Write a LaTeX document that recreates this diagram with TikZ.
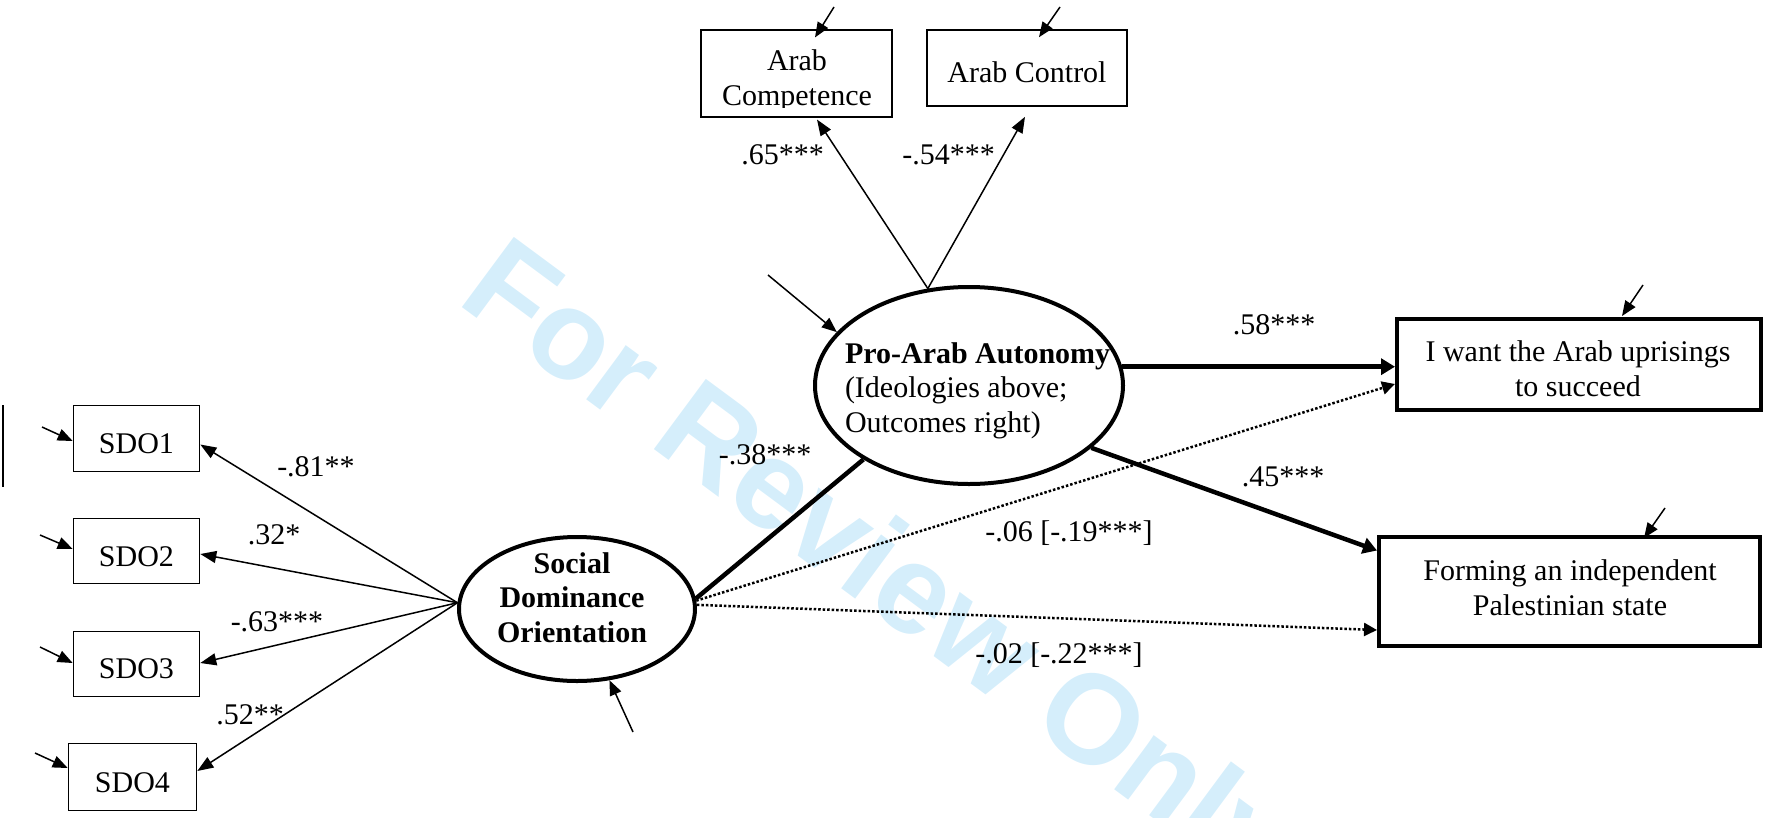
\documentclass[tikz,border=0pt]{standalone}
\usepackage{fontspec}
\setmainfont{Liberation Serif}
\newfontfamily\wmfont{Liberation Sans}
\usetikzlibrary{shapes.geometric,arrows.meta,calc}
\definecolor{wmblue}{RGB}{213,238,251}
\begin{document}
\begin{tikzpicture}[x=1pt,y=-1pt,
  lbl/.style={font=\fontsize{30}{34.5}\selectfont, inner sep=0pt, outer sep=0pt},
  boldlbl/.style={font=\fontsize{30}{34.5}\selectfont\bfseries, inner sep=0pt, outer sep=0pt},
  obs/.style={draw, rectangle, line width=1.6pt, inner sep=0pt},
  outc/.style={draw, rectangle, line width=4pt, inner sep=0pt},
  latent/.style={draw, ellipse, line width=4pt, inner sep=0pt},
  thinarrow/.style={line width=1.5pt, -{Triangle[length=16pt,width=12pt]}},
  errarrow/.style={line width=1.5pt, -{Triangle[length=15pt,width=12pt]}},
  thickarrow/.style={line width=4.5pt, -{Triangle[length=14pt,width=16pt]}},
  thickline/.style={line width=4.5pt},
  dotarrow/.style={line width=2.5pt, dash pattern=on 2.5pt off 2pt, -{Triangle[length=13pt,width=13pt]}},
  wm/.style={font=\wmfont\bfseries\fontsize{127}{127}\selectfont, text=wmblue, inner sep=0pt, outer sep=0pt}
]
\useasboundingbox (0,0) rectangle (1765,817);

% watermark
\node[wm, anchor=base west, rotate=-36.5] (wmark) at (455,302) {For Review Only};

% latent variables (anchor=base of a multi-line node = baseline of its last line)
\node[latent, minimum width=308pt, minimum height=197pt] (paa) at (969,385.5) {};
\node[lbl, align=left, anchor=base west] (paatext) at (845,432) {\textbf{Pro-Arab Autonomy}\\(Ideologies above;\\Outcomes right)};
\node[latent, minimum width=236pt, minimum height=144pt] (sdo) at (577,609) {};
\node[boldlbl, align=center, anchor=base] (sdotext) at (572,642) {Social\\Dominance\\Orientation};

% ideology boxes
\node[obs, minimum width=191.5pt, minimum height=87.5pt] (ac) at (796.5,73.5) {};
\begin{scope}
  \clip (700,29) rectangle (893,107.5);
  \node[lbl, align=center, anchor=base] (actext) at (797,105) {Arab\\Competence};
\end{scope}
\node[obs, minimum width=200pt, minimum height=76pt] (actrl) at (1027,68) {};
\node[lbl, anchor=base] (actrltext) at (1027,82) {Arab Control};

% outcome boxes
\node[outc, minimum width=364pt, minimum height=91pt] (want) at (1579,364.5) {};
\node[lbl, align=center, anchor=base] (wanttext) at (1578,396) {I want the Arab uprisings\\to succeed};
\node[outc, minimum width=381pt, minimum height=109pt] (form) at (1569.5,591.5) {};
\node[lbl, align=center, anchor=base] (formtext) at (1570,615) {Forming an independent\\Palestinian state};

% SDO indicators
\node[obs, minimum width=126pt, minimum height=66pt] (sdo1) at (136.5,438.5) {};
\node[lbl, anchor=base] (sdo1text) at (136.5,453) {SDO1};
\node[obs, minimum width=126pt, minimum height=65pt] (sdo2) at (136.5,551) {};
\node[lbl, anchor=base] (sdo2text) at (136.5,566) {SDO2};
\node[obs, minimum width=126pt, minimum height=65pt] (sdo3) at (136.5,664) {};
\node[lbl, anchor=base] (sdo3text) at (136.5,678) {SDO3};
\node[obs, minimum width=128pt, minimum height=67pt] (sdo4) at (132.5,777) {};
\node[lbl, anchor=base] (sdo4text) at (132.5,792) {SDO4};

% error term starts
\coordinate (e1) at (42,427);
\coordinate (e2) at (40,535);
\coordinate (e3) at (40,647);
\coordinate (e4) at (35,753);
\coordinate (esdo) at (633,732);
\coordinate (epaa) at (768,275);
\coordinate (eac) at (834,7);
\coordinate (eactrl) at (1060,7);
\coordinate (ewant) at (1643,285);
\coordinate (eform) at (1665,508);
\coordinate (vl1) at (3,405);
\coordinate (vl2) at (3,487);

\draw[line width=2pt] (vl1) -- (vl2);

% error arrows
\draw[errarrow] (e1) -- ($(sdo1.west)+(0,2.5)$);
\draw[errarrow] (e2) -- ($(sdo2.west)+(0,-2)$);
\draw[errarrow] (e3) -- ($(sdo3.west)+(0,-1)$);
\draw[errarrow] (e4) -- ($(sdo4.west)+(0,-9)$);
\draw[errarrow] (esdo) -- (sdo);
\draw[errarrow] (epaa) -- (paa.158);
\draw[errarrow] (eac) -- ($(ac.north)+(18.5,8.5)$);
\draw[errarrow] (eactrl) -- ($(actrl.north)+(12,8)$);
\draw[errarrow] (ewant) -- ($(want.north)+(43,-1)$);
\draw[errarrow] (eform) -- ($(form.north)+(74.5,3)$);

% loadings
\draw[thinarrow] (sdo.177) -- ($(sdo1.east)+(0,6)$);
\draw[thinarrow] (sdo.177) -- ($(sdo2.east)+(0,3)$);
\draw[thinarrow] (sdo.177) -- ($(sdo3.east)+(0,-1)$);
\draw[thinarrow] (sdo.177) -- ($(sdo4.east)+(0,-6)$);
\draw[thinarrow] (paa.113) -- ($(ac.south)+(20.5,1.5)$);
\draw[thinarrow] (paa.113) -- ($(actrl.south)+(-2,10)$);

% structural paths
\draw[thickline] (sdo.5) -- (paa.215);
\draw[thickarrow] (paa.7) -- (paa.7 -| want.west);
\draw[thickarrow] (paa.-27) -- ($(form.west)+(0,-41)$);
\draw[dotarrow] (sdo.4) -- ($(want.west)+(0,19.5)$);
\draw[dotarrow] (sdo.2) -- ($(form.west)+(0,38.5)$);

% coefficient labels
\node[lbl] (l81) at (316,467) {-.81**};
\node[lbl] (l32) at (274,535) {.32*};
\node[lbl] (l63) at (277,622) {-.63***};
\node[lbl] (l52) at (250,715) {.52**};
\node[lbl] (l65) at (782.5,155) {.65***};
\node[lbl] (l54) at (948.5,155) {-.54***};
\node[lbl] (l38) at (765,455) {-.38***};
\node[lbl] (l58) at (1274,325) {.58***};
\node[lbl] (l45) at (1283,477) {.45***};
\node[lbl] (l06) at (1069,533) {-.06 [-.19***]};
\node[lbl] (l02) at (1059,655) {-.02 [-.22***]};
\end{tikzpicture}
\end{document}
